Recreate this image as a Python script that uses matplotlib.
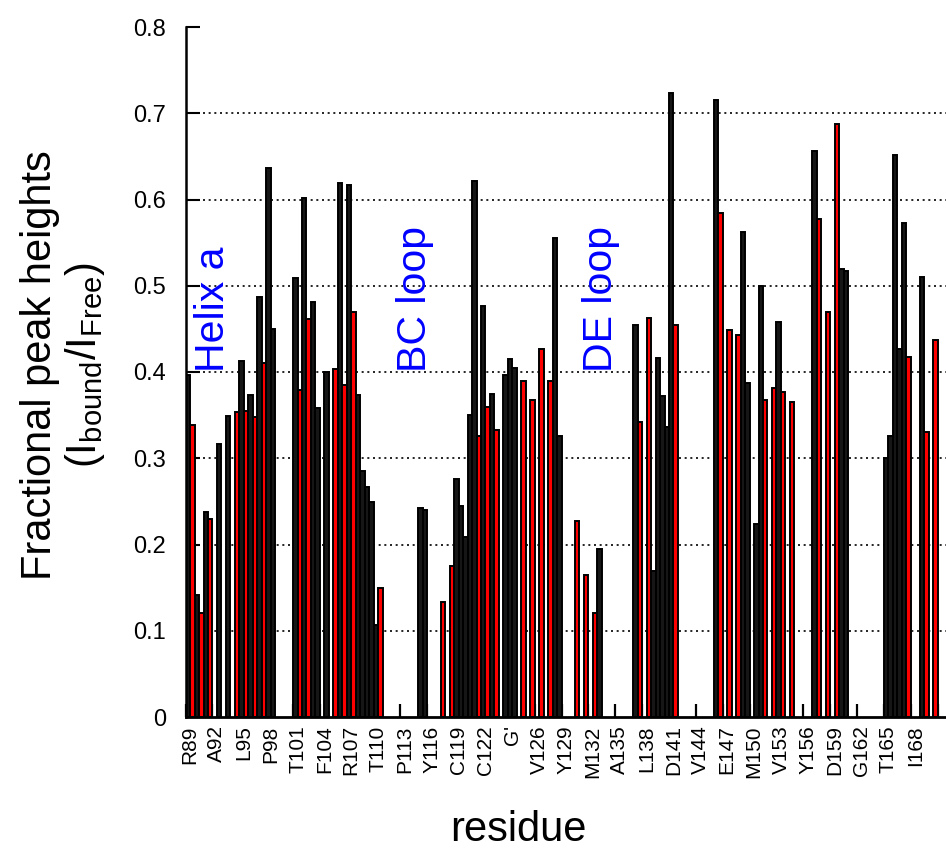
import numpy as np
import matplotlib
matplotlib.use("Agg")
import matplotlib.pyplot as plt

plt.rcParams['font.family'] = ['Liberation Sans', 'DejaVu Sans']
plt.rcParams['mathtext.fontset'] = 'custom'
plt.rcParams['mathtext.rm'] = 'Liberation Sans'
plt.rcParams['mathtext.it'] = 'Liberation Sans:italic'

# residue slots (0 = R89 ... 85 = last, partly cut off)
n_res = 86
tick_labels = ["R89", "A92", "L95", "P98", "T101", "F104", "R107", "T110", "P113",
               "Y116", "C119", "C122", "G'", "V126", "Y129", "M132", "A135", "L138",
               "D141", "V144", "E147", "M150", "V153", "Y156", "D159", "G162",
               "T165", "I168"]

# left (black) bar of each residue, missing = none
left_vals = {
    0: 0.396, 1: 0.141, 2: 0.238, 6: 0.413, 7: 0.373, 8: 0.487, 9: 0.636,
    12: 0.509, 13: 0.602, 14: 0.481, 17: 0.619, 18: 0.617, 19: 0.373, 20: 0.267,
    21: 0.107, 26: 0.242, 30: 0.276, 31: 0.209, 32: 0.622, 33: 0.476, 34: 0.375,
    36: 0.415, 41: 0.555, 46: 0.195, 50: 0.455, 52: 0.169, 53: 0.372, 54: 0.724,
    59: 0.715, 62: 0.562, 64: 0.500, 66: 0.458, 70: 0.656, 73: 0.519,
    78: 0.300, 79: 0.652, 80: 0.573, 82: 0.510, 85: 0.550,
}
# right bar of each residue and its colour ('r' red, 'k' black)
right_vals = {
    0: (0.338, 'r'), 1: (0.121, 'r'), 2: (0.230, 'r'), 3: (0.317, 'k'), 4: (0.349, 'k'),
    5: (0.354, 'r'), 6: (0.355, 'r'), 7: (0.348, 'r'), 8: (0.410, 'r'), 9: (0.450, 'k'),
    12: (0.379, 'r'), 13: (0.462, 'r'), 14: (0.358, 'k'), 15: (0.400, 'k'),
    16: (0.404, 'r'), 17: (0.385, 'r'), 18: (0.469, 'r'), 19: (0.285, 'k'),
    20: (0.249, 'k'), 21: (0.149, 'r'), 26: (0.240, 'k'), 28: (0.133, 'r'),
    29: (0.175, 'r'), 30: (0.245, 'k'), 31: (0.350, 'k'), 32: (0.326, 'r'),
    33: (0.360, 'r'), 34: (0.333, 'r'), 35: (0.396, 'k'), 36: (0.405, 'k'),
    37: (0.390, 'r'), 38: (0.368, 'r'), 39: (0.427, 'r'), 40: (0.390, 'r'),
    41: (0.326, 'k'), 43: (0.227, 'r'), 44: (0.165, 'r'), 45: (0.121, 'r'),
    50: (0.342, 'r'), 51: (0.463, 'r'), 52: (0.416, 'k'), 53: (0.336, 'k'),
    54: (0.455, 'r'), 59: (0.584, 'r'), 60: (0.449, 'r'), 61: (0.443, 'r'),
    62: (0.387, 'k'), 63: (0.224, 'k'), 64: (0.367, 'r'), 65: (0.381, 'r'),
    66: (0.377, 'r'), 67: (0.365, 'r'), 70: (0.577, 'r'), 71: (0.469, 'r'),
    72: (0.688, 'r'), 73: (0.517, 'k'), 78: (0.326, 'k'), 79: (0.427, 'k'),
    80: (0.417, 'r'), 82: (0.330, 'r'), 83: (0.437, 'r'),
}
regions = ["Helix a", "BC loop", "DE loop"]
region_pos = [2.6, 25.1, 45.9]

colors = {'r': '#ff0000', 'k': '#161616'}

fig = plt.figure(figsize=(9.46, 8.52), dpi=100)
slot_px = 8.952
ax_left = 185.6 / 946
ax_w = 87 * slot_px / 946
ax = fig.add_axes([ax_left, 135 / 852, ax_w, 690 / 852])

# grid behind the bars
yticks = np.round(np.arange(0, 0.81, 0.1), 1)
ax.hlines(yticks[1:-1], -0.5, 86.5, colors='black', linestyles=(0, (1.2, 2.2)),
          linewidth=1.2, zorder=0)

lx = np.array(list(left_vals.keys()))
lv = np.array(list(left_vals.values()))
ax.bar(lx - 0.25, lv, width=0.5, color=colors['k'], edgecolor='black',
       linewidth=1.4, zorder=2)

rx = np.array(list(right_vals.keys()))
rv = np.array([v[0] for v in right_vals.values()])
rc = [colors[v[1]] for v in right_vals.values()]
ax.bar(rx + 0.25, rv, width=0.5, color=rc, edgecolor='black',
       linewidth=1.4, zorder=2)

for txt, xp in zip(regions, region_pos):
    ax.text(xp, 0.40, txt, rotation=90, color='#0000ff', fontsize=29.5,
            ha='center', va='bottom', zorder=3)

ax.set_xlim(-0.5, 86.5)
ax.set_ylim(0, 0.8)
ax.set_yticks(yticks)
ax.set_yticklabels(["0"] + [f"{v:.1f}" for v in yticks[1:]], fontsize=17)
ax.tick_params(axis='y', direction='in', length=10, width=1.5, pad=14)

# labels at residue centres, tick marks at the residue boundaries
lab_pos = np.arange(len(tick_labels)) * 3
ax.set_xticks(lab_pos)
ax.set_xticklabels(tick_labels, rotation=90, fontsize=15)
ax.tick_params(axis='x', which='major', length=0, pad=6)
ax.set_xticks(np.arange(0, n_res, 3) - 0.5, minor=True)
ax.tick_params(axis='x', which='minor', direction='in', length=9.5, width=1.6)

for s in ['top', 'right']:
    ax.spines[s].set_visible(False)
ax.spines['left'].set_linewidth(1.8)
ax.spines['bottom'].set_linewidth(2.0)

fig.text(518 / 946, 1 - 830 / 852, "residue", fontsize=30, ha='center', va='center')
fig.text(40 / 946, 1 - 365 / 852, "Fractional peak heights", fontsize=30,
         rotation=90, ha='center', va='center')
fig.text(85 / 946, 1 - 365 / 852, r"(I$_{\mathrm{bound}}$/I$_{\mathrm{Free}}$)",
         fontsize=30, rotation=90, ha='center', va='center')

fig.savefig("out.png", dpi=100)
